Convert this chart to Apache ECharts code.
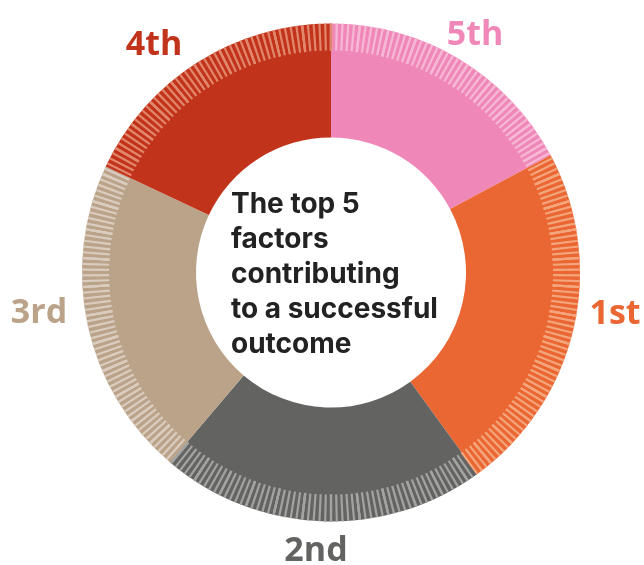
<!DOCTYPE html>
<html>
<head>
<meta charset="utf-8">
<script src="https://cdn.jsdelivr.net/npm/echarts@6/dist/echarts.min.js"></script>
<style>
  html, body { margin: 0; padding: 0; background: #fff; }
  #main { width: 644px; height: 565px; }
</style>
</head>
<body>
<div id="main"></div>
<script>
// 数据：顺时针从12点方向开始
var ranks = ["5th", "1st", "2nd", "3rd", "4th"];
var shares = [17.2, 22.8, 21.2, 20.8, 18];
var baseColors = ["#ef88b8", "#ea6632", "#636361", "#bba38a", "#c1331a"];
var stripeColors = ["#f6b8d5", "#f5a57c", "#a3a3a1", "#dacdbf", "#e3876c"];

// 标签位置
var labelPos = [[475, 35], [615, 314], [316, 551], [39, 313], [154, 45]];

var chart = echarts.init(document.getElementById("main"));

var total = shares.reduce(function (a, b) { return a + b; }, 0);
var acc = 0;
var stripeSegments = shares.map(function (v, i) {
  acc += v;
  return [acc / total, stripeColors[i]];
});
stripeSegments[stripeSegments.length - 1][0] = 1;

chart.setOption({
  animation: false,
  title: {
    text: "The top 5\nfactors\ncontributing\nto a successful\noutcome",
    left: 226,
    top: 182,
    textStyle: {
      fontFamily: "Inter",
      fontWeight: 700,
      fontSize: 28,
      lineHeight: 35,
      color: "#222222"
    }
  },
  series: [
    {
      type: "pie",
      z: 1,
      center: [331, 272.5],
      radius: [135, 249],
      startAngle: 90,
      clockwise: true,
      silent: true,
      itemStyle: { borderWidth: 0 },
      label: {
        show: true,
        formatter: "{b}",
        fontFamily: "Open Sans",
        fontWeight: 700,
        fontSize: 34,
        overflow: "none"
      },
      labelLine: { show: false },
      labelLayout: function (params) {
        var p = labelPos[params.dataIndex];
        return { x: p[0], y: p[1], align: "center", verticalAlign: "middle", hideOverlap: false };
      },
      data: ranks.map(function (name, i) {
        return {
          name: name,
          value: shares[i],
          itemStyle: { color: baseColors[i] },
          label: { color: baseColors[i] }
        };
      })
    },
    {
      // 外圈条纹
      type: "gauge",
      z: 5,
      center: [331, 272.5],
      radius: 249,
      startAngle: 90,
      endAngle: -270,
      min: 0,
      max: total,
      splitNumber: 54,
      silent: true,
      axisLine: { show: true, lineStyle: { width: 0, opacity: 0, color: stripeSegments } },
      splitLine: {
        show: true,
        distance: 0,
        length: 27,
        lineStyle: { color: "auto", width: 2.2, cap: "butt" }
      },
      axisTick: {
        show: true,
        splitNumber: 5,
        distance: 0,
        length: 27,
        lineStyle: { color: "auto", width: 2.2, cap: "butt" }
      },
      axisLabel: { show: false },
      pointer: { show: false },
      anchor: { show: false },
      title: { show: false },
      detail: { show: false },
      data: [{ value: 0 }]
    }
  ]
});
</script>
</body>
</html>
